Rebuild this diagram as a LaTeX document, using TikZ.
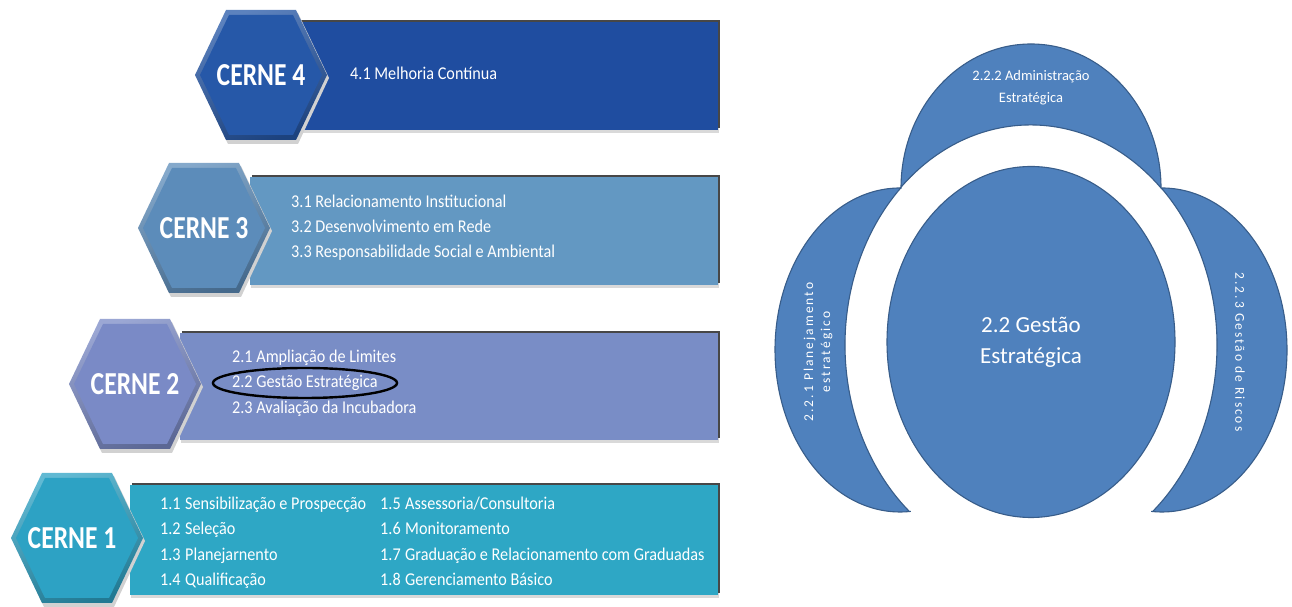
\documentclass[tikz,border=0pt]{standalone}
\usepackage{fontspec}
\setmainfont{Carlito}
\newfontfamily\narrowfont[FakeStretch=0.9]{Carlito}
\newfontfamily\cernefont[FakeStretch=0.8]{Carlito}
\newfontfamily\spacedfont[LetterSpace=15]{Carlito}
\usetikzlibrary{shapes.geometric,shadows}

\definecolor{panelA}{RGB}{31,77,160}
\definecolor{hexA}{RGB}{38,88,168}
\definecolor{panelB}{RGB}{99,152,194}
\definecolor{hexB}{RGB}{92,140,186}
\definecolor{panelC}{RGB}{121,141,198}
\definecolor{hexC}{RGB}{122,138,198}
\definecolor{panelD}{RGB}{46,167,197}
\definecolor{hexD}{RGB}{45,162,196}
\definecolor{sartfill}{RGB}{79,129,189}
\definecolor{sartline}{RGB}{56,93,138}

\tikzset{
  panel/.style={inner sep=0, outer sep=0, anchor=south west,
    general shadow={fill=black!15, shadow xshift=1pt, shadow yshift=-3pt},
    general shadow={fill=black!72, shadow xshift=2pt, shadow yshift=2pt}},
  cerne/.style={text=white, inner sep=0,
    font=\cernefont\bfseries\fontsize{32}{32}\selectfont},
  item/.style={text=white, anchor=west, inner sep=0, text height=1.5ex, text depth=.3ex,
    font=\narrowfont\fontsize{18}{20}\selectfont},
  sart/.style={fill=sartfill, draw=sartline, line width=1.1pt},
  sarttext/.style={text=white, align=center, inner sep=0},
}

% bevelled hexagon centred at (#1,#2) in colour #3
\newcommand\cernehex[3]{%
  \fill[black!18] (#1-64,#2-3) -- (#1-33,#2-69) -- (#1+37,#2-69) -- (#1+68,#2-3)
    -- (#1+37,#2+62) -- (#1-33,#2+62) -- cycle;
  \shade[top color=#3!75!white, bottom color=#3!75!black, shading angle=20]
    (#1-66,#2) -- (#1-35,#2+65) -- (#1+35,#2+65) -- (#1+66,#2)
    -- (#1+35,#2-65) -- (#1-35,#2-65) -- cycle;
  \fill[#3] (#1-61,#2) -- (#1-32,#2+60) -- (#1+32,#2+60) -- (#1+61,#2)
    -- (#1+32,#2-60) -- (#1-32,#2-60) -- cycle;
}

\begin{document}
\begin{tikzpicture}[x=1pt,y=1pt]
\useasboundingbox[fill=white] (0,0) rectangle (1292,607);

% ---- CERNE 4 ----
\node[panel, fill=panelA, minimum width=423, minimum height=108] (p4) at (295,477) {};
\cernehex{261}{532}{hexA}
\node[cerne] (c4) at (261,532) {CERNE 4};
\node[item] (i41) at (350,530) {4.1 Melhoria Contínua};

% ---- CERNE 3 ----
\node[panel, fill=panelB, minimum width=468, minimum height=108] (p3) at (250,322) {};
\cernehex{204}{379}{hexB}
\node[cerne] (c3) at (204,379) {CERNE 3};
\node[item] (i31) at (291,402) {3.1 Relacionamento Institucional};
\node[item] (i32) at (291,377) {3.2 Desenvolvimento em Rede};
\node[item] (i33) at (291,352) {3.3 Responsabilidade Social e Ambiental};

% ---- CERNE 2 ----
\node[panel, fill=panelC, minimum width=538, minimum height=107] (p2) at (180,167) {};
\cernehex{135}{223}{hexC}
\node[cerne] (c2) at (135,223) {CERNE 2};
\node[item] (i21) at (232,247) {2.1 Ampliação de Limites};
\node[item] (i22) at (232,222) {2.2 Gestão Estratégica};
\node[item] (i23) at (232,196) {2.3 Avaliação da Incubadora};
\node[draw=black, line width=2.4pt, ellipse, inner sep=0, minimum width=184, minimum height=30] (mark) at (305,224) {};

% ---- CERNE 1 ----
\node[panel, fill=panelD, minimum width=588, minimum height=110] (p1) at (130,12) {};
\cernehex{77}{69}{hexD}
\node[cerne] (c1) at (72,69) {CERNE 1};
\node[item] (n11) at (160,100) {1.1};
\node[item] (i11) at (185,100) {Sensibilização e Prospecção};
\node[item] (n12) at (160,75) {1.2};
\node[item] (i12) at (185,75) {Seleção};
\node[item] (n13) at (160,49) {1.3};
\node[item] (i13) at (185,49) {Planejarnento};
\node[item] (n14) at (160,24) {1.4};
\node[item] (i14) at (185,24) {Qualificação};
\node[item] (n15) at (380,100) {1.5};
\node[item] (i15) at (405,100) {Assessoria/Consultoria};
\node[item] (n16) at (380,75) {1.6};
\node[item] (i16) at (405,75) {Monitoramento};
\node[item] (n17) at (380,49) {1.7};
\node[item] (i17) at (405,49) {Graduação e Relacionamento com Graduadas};
\node[item] (n18) at (380,24) {1.8};
\node[item] (i18) at (405,24) {Gerenciamento Básico};

% ---- 2.2 Gestão Estratégica: centre and three surrounding arcs ----
% top cap
\filldraw[sart] (901,419) arc[start angle=180, end angle=0, x radius=130, y radius=144]
  arc[start angle=45.5, end angle=134.5, x radius=186, y radius=220] -- cycle;
% left crescent
\filldraw[sart] (900,419) arc[start angle=90, end angle=275, x radius=125, y radius=162]
  -- (909.2,95.7) arc[start angle=229.1, end angle=134.5, x radius=186, y radius=220] -- cycle;
% right crescent
\filldraw[sart] (1162,419) arc[start angle=90, end angle=-95, x radius=125, y radius=162]
  -- (1152.8,95.7) arc[start angle=-49.1, end angle=45.5, x radius=186, y radius=220] -- cycle;

\node[sart, ellipse, inner sep=0, minimum width=288, minimum height=351,
  text=white, align=center, font=\fontsize{23}{31}\selectfont] (core) at (1031,265)
  {2.2 Gestão\\Estratégica};

\node[sarttext, font=\fontsize{14.5}{22}\selectfont] (adm) at (1031,519)
  {2.2.2 Administração\\Estratégica};
\node[sarttext, rotate=90, font=\spacedfont\fontsize{13.5}{17}\selectfont] (plan) at (818,255)
  {2.2.1 Planejamento\\estratégico};
\node[sarttext, rotate=-90, font=\spacedfont\fontsize{13.5}{17}\selectfont] (risk) at (1240,255)
  {2.2.3 Gestão de Riscos};
\end{tikzpicture}
\end{document}
